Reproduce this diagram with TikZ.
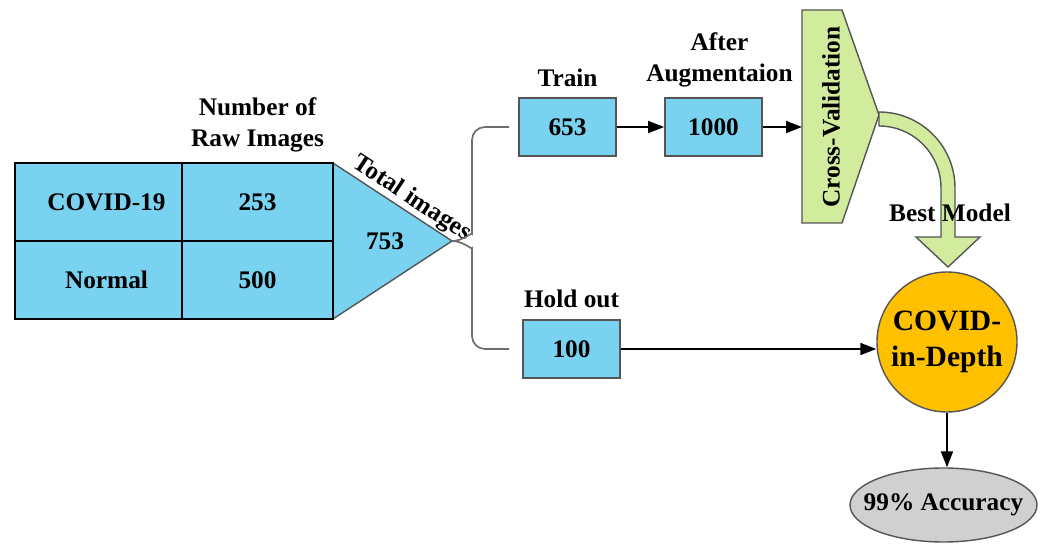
\documentclass[tikz,border=0pt]{standalone}
\usepackage{fontspec}
\setmainfont{Liberation Serif}
\usepackage{tikz}
\usetikzlibrary{positioning,calc,arrows.meta,shapes.geometric}
\definecolor{CellBlue}{RGB}{120,210,240}
\definecolor{EdgeGray}{RGB}{85,85,85}
\definecolor{CVGreen}{RGB}{210,236,158}
\definecolor{ModelGold}{RGB}{255,192,0}
\definecolor{AccGray}{RGB}{208,208,208}

\begin{document}
\begin{tikzpicture}[x=0.25mm, y=0.25mm,
					font=\fontsize{18}{22}\selectfont\bfseries,
					cell/.style={draw=black, line width=1pt, fill=CellBlue, minimum height=19.5mm, inner sep=0pt, outer sep=0pt},
					numbox/.style={draw=EdgeGray, line width=1.2pt, fill=CellBlue, minimum width=24.25mm, minimum height=14.5mm, inner sep=0pt},
					lbl/.style={inner sep=0pt, align=center},
					arr/.style={-{Triangle[length=4mm, width=3mm]}, line width=1.2pt},
					brace/.style={draw=EdgeGray!85, line width=1.2pt, rounded corners=3.25mm},
					bestarrow/.style={draw=EdgeGray, fill=CVGreen, line width=1pt}
					]
					\useasboundingbox (0,0) rectangle (1044,-544);
					
					% raw images table
					\coordinate (tip) at (452,-241);
					\path[draw=EdgeGray, fill=CellBlue, line width=1pt] (333,-163) -- (tip) -- (333,-319) -- cycle;
					\node[cell, minimum width=41.75mm] (covid) at (98.5,-202) {\hspace*{4mm}COVID-19};
					\node[cell, minimum width=37.75mm, right=0pt of covid] (covidn) {253};
					\node[cell, minimum width=41.75mm, below=0pt of covid] (normal) {\hspace*{4mm}Normal};
					\node[cell, minimum width=37.75mm, right=0pt of normal] (normaln) {500};
					\node (total) at (385,-241) {753};
					\path (covidn.north east) -- node[lbl, sloped, above, pos=0.6, inner sep=1pt] (totallbl) {Total images} (tip);
					\node[lbl, above=2.75mm of covidn] (rawlbl) {Number of\\Raw Images};
					
					% split
					\node[numbox] (train) at (567.5,-127) {653};
					\node[numbox] (aug) at (713.5,-127) {1000};
					\node[numbox] (hold) at (571.5,-349) {100};
					\node[lbl, above=2.5mm of train] (trainlbl) {Train};
					\node[lbl, above=2.5mm of aug, xshift=1.5mm] (auglbl) {After\\Augmentaion};
					\node[lbl, above=2.75mm of hold] (holdlbl) {Hold out};
					\draw[brace] (tip) arc[start angle=-90, end angle=0, radius=5mm] |- ([xshift=-2.25mm]train.west);
					\draw[brace] (tip) arc[start angle=90, end angle=0, radius=5mm] |- ([xshift=-3.25mm]hold.west);
					
					% cross-validation
					\path[draw=EdgeGray, fill=CVGreen, line width=1pt] (802,-10) -- (842,-10) -- (879,-115) -- (842,-223) -- (802,-223) -- cycle;
					\node[rotate=90] (cv) at (831,-117) {Cross-Validation};
					\coordinate (cvin) at (802,-127);
					\path[bestarrow] (879,-112) arc[start angle=90, end angle=0, radius=19mm] -- (955,-237) -- (980,-237) -- (948,-267)
						-- (916,-237) -- (941,-237) -- (941,-188) arc[start angle=0, end angle=90, radius=15.5mm] -- cycle;
					\node (bestlbl) at (950,-213) {Best Model};
					
					% model and result
					\node[circle, draw=EdgeGray, fill=ModelGold, line width=1pt, minimum size=35mm, inner sep=0pt, align=center,
						font=\fontsize{21}{26}\selectfont\bfseries] (model) at (947,-342) {COVID-\\in-Depth};
					\node[ellipse, draw=EdgeGray, fill=AccGray, line width=1pt, minimum width=46.75mm, minimum height=18.5mm,
						inner xsep=-3.75mm, inner ysep=0pt] (acc) at (943.5,-505) {99\% Accuracy};
					
					\draw[arr] (train) -- (aug);
					\draw[arr] (aug) -- (cvin);
					\draw[arr] (hold.east) -- (hold.east -| model.west);
					\draw[arr] (model.south) -- (model.south |- acc.north);
				\end{tikzpicture}
\end{document}
